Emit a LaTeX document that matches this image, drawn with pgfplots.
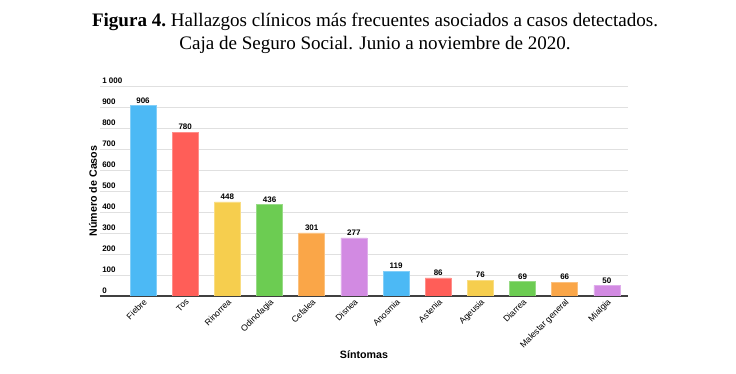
\documentclass[border=0pt]{standalone}
\usepackage{fontspec}
\setmainfont{Liberation Sans}
\newfontfamily\timesfont{Liberation Serif}
\usepackage{pgfplots}
\pgfplotsset{compat=1.18}
\definecolor{cblue}{RGB}{76,185,245}
\definecolor{cred}{RGB}{255,94,88}
\definecolor{cyellow}{RGB}{246,206,78}
\definecolor{cgreen}{RGB}{108,204,82}
\definecolor{corange}{RGB}{250,166,72}
\definecolor{cpurple}{RGB}{210,138,226}
\begin{document}
\begin{tikzpicture}
\useasboundingbox (0pt,0pt) rectangle (552pt,280.5pt);
\node[font=\timesfont\fontsize{14.3}{16}\selectfont] at (281.25pt,264pt) {\textbf{Figura 4.}~Hallazgos clínicos más frecuentes asociados a casos detectados.};
\node[font=\timesfont\fontsize{14.3}{16}\selectfont] at (281.25pt,246.75pt) {Caja de Seguro Social. Junio a noviembre de 2020.};
\begin{axis}[
  at={(75pt,58.5pt)}, anchor=south west,
  scale only axis, width=396pt, height=157.5pt,
  xmin=-1.02, xmax=11.5, ymin=0, ymax=1000,
  ybar, bar width=19.5pt,
  axis x line*=bottom, axis y line*=left,
  x axis line style={draw=black!75, line width=1.1pt, -},
  y axis line style={draw=none},
  major tick length=0pt,
  ymajorgrids, grid style={draw=black!12, line width=0.6pt},
  ytick={0,100,...,1000},
  yticklabels={0,100,200,300,400,500,600,700,800,900,1 000},
  yticklabel style={anchor=south west, inner sep=1.5pt, font=\bfseries\fontsize{6}{7}\selectfont},
  xtick={0,...,11},
  xticklabels={Fiebre,Tos,Rinorrea,Odinofagia,Cefalea,Disnea,Anosmia,Astenia,Ageusia,Diarrea,Malestar general,Mialgia},
  xticklabel style={rotate=45, anchor=north east, inner sep=1pt, font=\fontsize{6.5}{7.5}\selectfont},
  every axis y label/.style={at={(axis description cs:-0.0133,0.5)}, anchor=center, rotate=90, font=\bfseries\fontsize{8}{9}\selectfont},
  every axis x label/.style={at={(axis description cs:0.5,-0.281)}, anchor=center, font=\bfseries\fontsize{8}{9}\selectfont},
  ylabel={Número de Casos},
  xlabel={Síntomas},
  nodes near coords,
  nodes near coords style={font=\bfseries\fontsize{6}{7}\selectfont, inner sep=1.5pt, black, /pgf/number format/assume math mode=true},
]
\addplot[fill=cblue, draw=cblue!70!white, bar shift=0pt] coordinates {(0,906) (6,119)};
\addplot[fill=cred, draw=cred!70!white, bar shift=0pt] coordinates {(1,780) (7,86)};
\addplot[fill=cyellow, draw=cyellow!70!white, bar shift=0pt] coordinates {(2,448) (8,76)};
\addplot[fill=cgreen, draw=cgreen!70!white, bar shift=0pt] coordinates {(3,436) (9,69)};
\addplot[fill=corange, draw=corange!70!white, bar shift=0pt] coordinates {(4,301) (10,66)};
\addplot[fill=cpurple, draw=cpurple!70!white, bar shift=0pt] coordinates {(5,277) (11,50)};
\end{axis}
\end{tikzpicture}
\end{document}
